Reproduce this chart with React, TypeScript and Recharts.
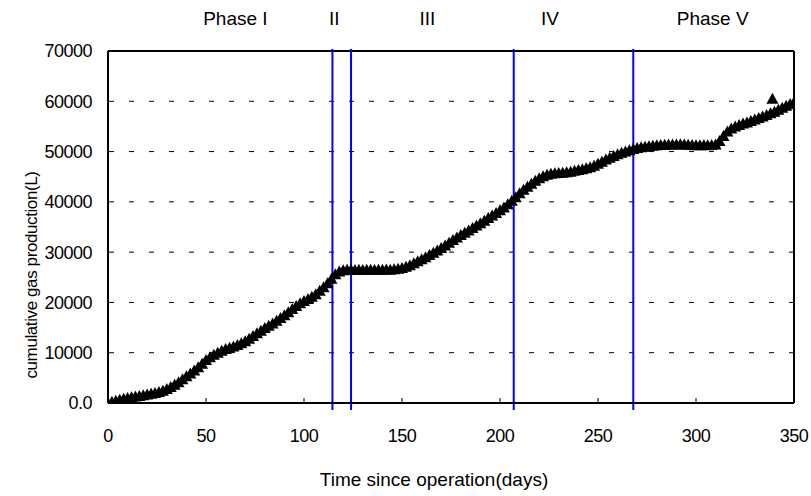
import React from "react";
import {
  ComposedChart,
  Scatter,
  XAxis,
  YAxis,
  CartesianGrid,
  ReferenceLine,
  Label,
} from "recharts";

// days since start-up, sampled every 2 days
const days = [
  0, 2, 4, 6, 8, 10, 12, 14, 16, 18, 20, 22, 24, 26, 28, 30, 32, 34, 36, 38,
  40, 42, 44, 46, 48, 50, 52, 54, 56, 58, 60, 62, 64, 66, 68, 70, 72, 74, 76, 78,
  80, 82, 84, 86, 88, 90, 92, 94, 96, 98, 100, 102, 104, 106, 108, 110, 112, 114, 116, 118,
  120, 122, 124, 126, 128, 130, 132, 134, 136, 138, 140, 142, 144, 146, 148, 150, 152, 154, 156, 158,
  160, 162, 164, 166, 168, 170, 172, 174, 176, 178, 180, 182, 184, 186, 188, 190, 192, 194, 196, 198,
  200, 202, 204, 206, 208, 210, 212, 214, 216, 218, 220, 222, 224, 226, 228, 230, 232, 234, 236, 238,
  240, 242, 244, 246, 248, 250, 252, 254, 256, 258, 260, 262, 264, 266, 268, 270, 272, 274, 276, 278,
  280, 282, 284, 286, 288, 290, 292, 294, 296, 298, 300, 302, 304, 306, 308, 310, 312, 314, 316, 318,
  320, 322, 324, 326, 328, 330, 332, 334, 336, 338, 340, 342, 344, 346, 348, 350,
];

// cumulative gas production (L)
const gas = [
  0, 250, 450, 650, 850, 1000, 1150, 1300, 1400, 1550, 1700, 1850, 2000, 2200, 2450, 2800, 3200, 3650, 4150, 4700,
  5300, 5850, 6450, 7100, 7800, 8550, 9100, 9600, 10000, 10400, 10750, 11000, 11250, 11550, 11900, 12300, 12800, 13300, 13850, 14350,
  14900, 15350, 15800, 16350, 16900, 17450, 18050, 18700, 19300, 19850, 20300, 20700, 21150, 21650, 22300, 23000, 23800, 24700, 25600, 26150,
  26400, 26500, 26500, 26450, 26500, 26450, 26500, 26500, 26450, 26500, 26500, 26550, 26500, 26600, 26700, 26850, 27100, 27400, 27800, 28200,
  28600, 29000, 29450, 29900, 30350, 30800, 31300, 31850, 32400, 32900, 33400, 33850, 34300, 34800, 35300, 35750, 36250, 36800, 37300, 37800,
  38350, 38900, 39500, 40200, 40900, 41700, 42400, 43000, 43600, 44200, 44700, 45100, 45400, 45600, 45700, 45750, 45800, 45900, 46000, 46200,
  46350, 46500, 46700, 46900, 47200, 47600, 48000, 48400, 48750, 49100, 49450, 49750, 50000, 50250, 50500, 50700, 50850, 50950, 51050, 51150,
  51250, 51300, 51350, 51400, 51400, 51400, 51450, 51400, 51350, 51300, 51250, 51250, 51300, 51250, 51300, 51400, 52100, 53100, 54000, 54600,
  55000, 55300, 55600, 55800, 56100, 56400, 56700, 56950, 57250, 57600, 57900, 58300, 58700, 59100, 59450, 59800,
];

// stray reading near the end of phase V
const strayDays = [339];
const strayGas = [60500];

const xTicks = [0, 50, 100, 150, 200, 250, 300, 350];
const yTicks = [0, 10000, 20000, 30000, 40000, 50000, 60000, 70000];

// day boundaries between operating phases
const phaseBounds = [114.5, 124, 207, 268];
const phaseNames = ["Phase I", "II", "III", "IV", "Phase V"];
const phaseLabelDays = [65, 115.5, 163, 225.5, 308.5];

const series = days
  .map((d, i) => ({ day: d, gas: gas[i] }))
  .concat(strayDays.map((d, i) => ({ day: d, gas: strayGas[i] })));

const FONT = '"Liberation Sans", Arial, sans-serif';

function Triangle(props: any) {
  const { cx, cy } = props;
  if (cx == null || cy == null) return null;
  return (
    <polygon
      points={`${cx},${cy - 6} ${cx + 6},${cy + 5} ${cx - 6},${cy + 5}`}
      fill="#000"
    />
  );
}

function XTick({ x, y, payload }: any) {
  return (
    <g>
      <line x1={x} y1={y} x2={x} y2={y - 5} stroke="#000" strokeWidth={1} />
      <text
        x={x}
        y={y + 39}
        textAnchor="middle"
        fontFamily={FONT}
        fontSize={18}
        letterSpacing={-0.5}
        fill="#000"
      >
        {payload.value}
      </text>
    </g>
  );
}

function YTick({ x, y, payload }: any) {
  const v = payload.value;
  return (
    <text
      x={x - 16}
      y={y}
      dy="0.36em"
      textAnchor="end"
      fontFamily={FONT}
      fontSize={18}
      letterSpacing={-0.5}
      fill="#000"
    >
      {v === 0 ? "0.0" : v}
    </text>
  );
}

function PhaseLine(props: any) {
  const { x1, x2, y1, y2 } = props;
  const top = Math.min(y1, y2);
  const bottom = Math.max(y1, y2);
  return (
    <line x1={x1} x2={x2} y1={top - 2} y2={bottom + 7} stroke="#0000ff" strokeWidth={2} />
  );
}

function YTitle() {
  return (
    <text
      x={37}
      y={275}
      transform="rotate(-90, 37, 275)"
      textAnchor="middle"
      fontFamily={FONT}
      fontSize={17}
      letterSpacing={-0.4}
      fill="#000"
    >
      cumulative gas production(L)
    </text>
  );
}

export default function App() {
  return (
    <div style={{ position: "absolute", left: 0, top: 0, background: "#fff" }}>
      <ComposedChart
        width={811}
        height={496}
        data={series}
        margin={{ top: 51, right: 17, left: 0, bottom: 0 }}
      >
        <CartesianGrid
          vertical={false}
          stroke="#000"
          strokeDasharray="5 15"
          strokeDashoffset={-1}
        />
        <XAxis
          type="number"
          dataKey="day"
          domain={[0, 350]}
          ticks={xTicks}
          height={93}
          tickSize={0}
          tickMargin={0}
          tickLine={false}
          tick={<XTick />}
          axisLine={{ stroke: "#000", strokeWidth: 2 }}
          allowDataOverflow
        >
          <Label
            value="Time since operation(days)"
            position="insideBottom"
            offset={10}
            dx={-17}
            fontFamily={FONT}
            fontSize={19}
            fill="#000"
          />
        </XAxis>
        <YAxis
          type="number"
          domain={[0, 70000]}
          ticks={yTicks}
          width={108}
          tickSize={0}
          tickMargin={0}
          tickLine={false}
          tick={<YTick />}
          axisLine={{ stroke: "#000", strokeWidth: 2 }}
          allowDataOverflow
        >
          <Label content={<YTitle />} />
        </YAxis>
        <Scatter
          dataKey="gas"
          shape={<Triangle />}
          isAnimationActive={false}
        />
        <ReferenceLine y={70000} stroke="#000" strokeWidth={2} />
        <ReferenceLine x={350} stroke="#000" strokeWidth={2} />
        {phaseBounds.map((b) => (
          <ReferenceLine key={`b-${b}`} x={b} shape={<PhaseLine />} />
        ))}
        {phaseLabelDays.map((d, i) => (
          <ReferenceLine
            key={`p-${i}`}
            x={d}
            stroke="none"
            label={{
              value: phaseNames[i],
              position: "top",
              offset: 26,
              fill: "#000",
              fontSize: 19,
              fontFamily: FONT,
            }}
          />
        ))}
      </ComposedChart>
    </div>
  );
}
